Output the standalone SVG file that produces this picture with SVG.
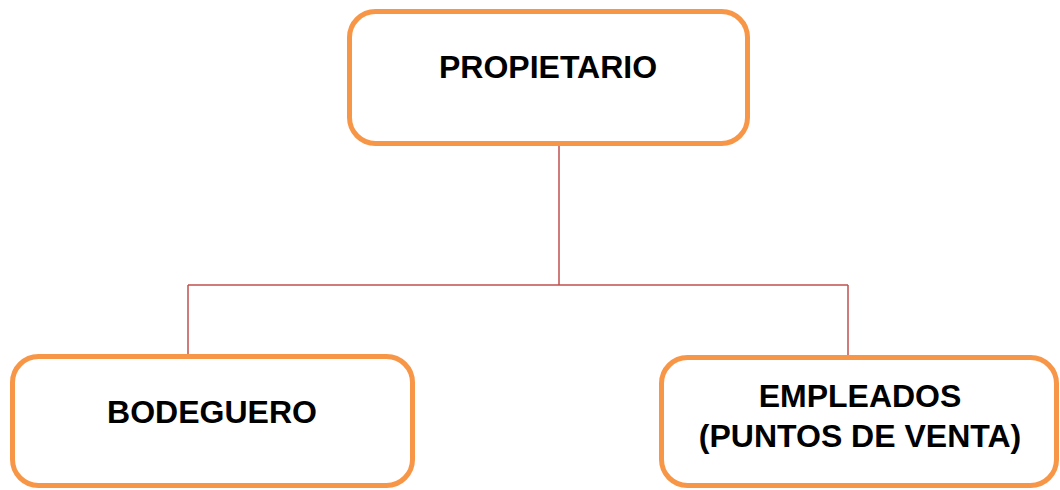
<svg xmlns="http://www.w3.org/2000/svg" width="1060" height="490" viewBox="0 0 1060 490">
<style>
.box{fill:#FFFFFF;stroke:#F79646;stroke-width:5}
.lbl{font-family:"Liberation Sans",Arial,sans-serif;font-weight:bold;font-size:32px;fill:#000000;text-anchor:middle}
.conn{fill:none;stroke:#C0504D;stroke-width:1.5}
</style>
<rect width="1060" height="490" fill="#FFFFFF"/>
<g id="connectors">
<path class="conn" d="M559,146 V285 M188,285 H848 M188,285 V355 M848,285 V355"/>
</g>
<g id="propietario">
<rect class="box" x="349.5" y="11.5" width="398" height="132" rx="26"/>
<text class="lbl" x="548" y="78">PROPIETARIO</text>
</g>
<g id="bodeguero">
<rect class="box" x="12.5" y="356.5" width="400" height="129" rx="26"/>
<text class="lbl" x="212" y="423">BODEGUERO</text>
</g>
<g id="empleados">
<rect class="box" x="661.5" y="357.5" width="395" height="128" rx="26"/>
<text class="lbl" x="860" y="407">EMPLEADOS</text>
<text class="lbl" x="860" y="447">(PUNTOS DE VENTA)</text>
</g>
</svg>
